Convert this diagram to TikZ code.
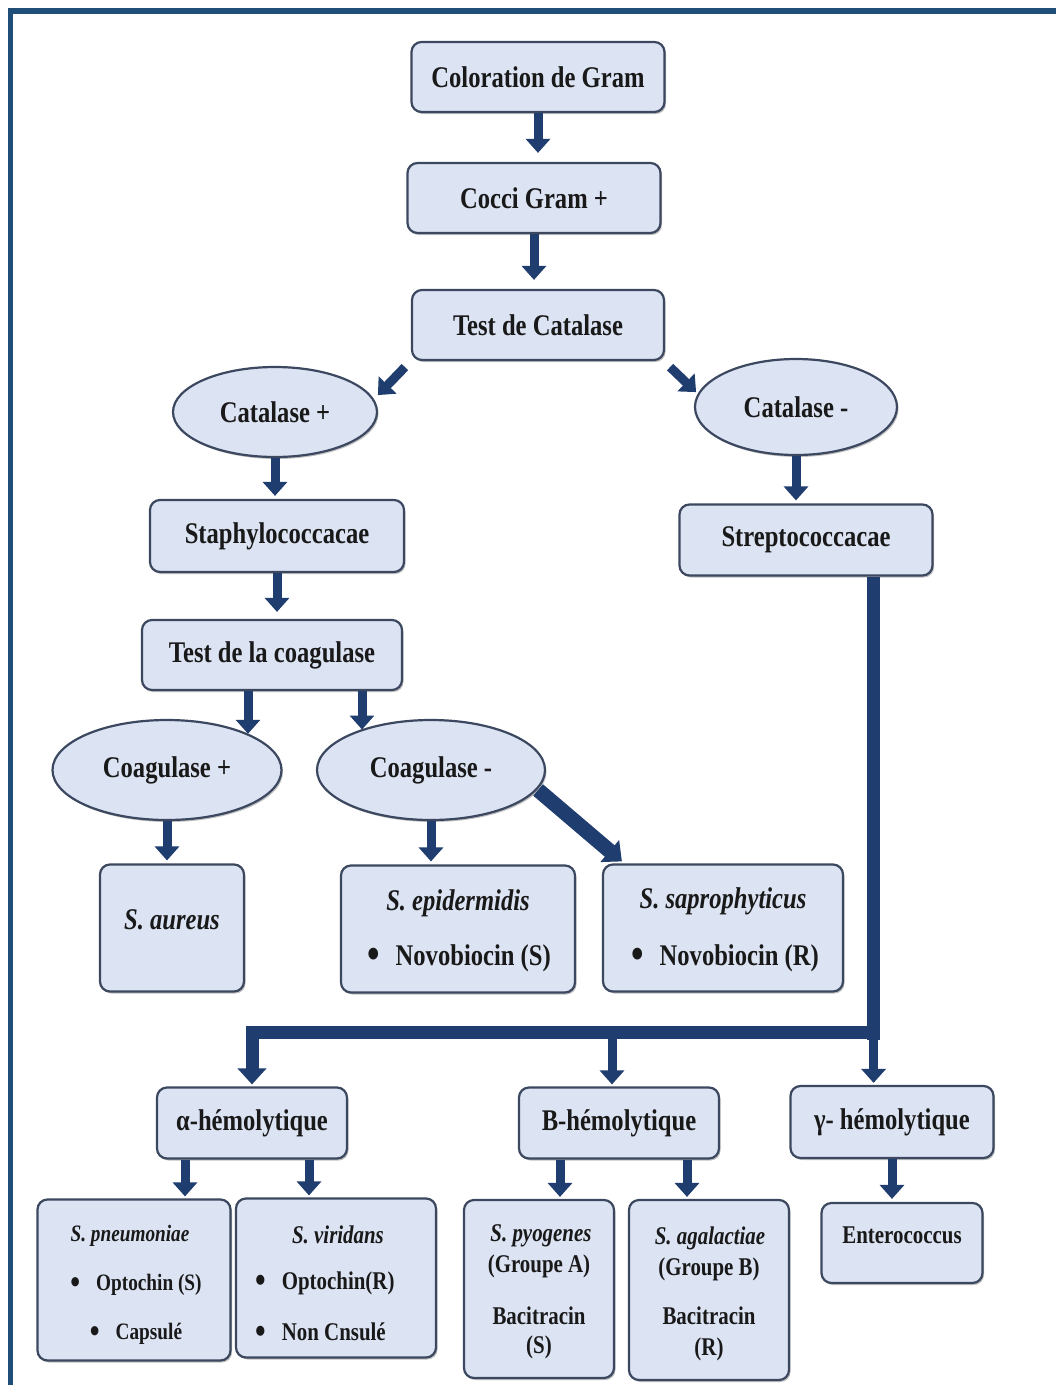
\documentclass[tikz,border=0pt]{standalone}
\usepackage{fontspec}
\setmainfont{Liberation Serif}[FakeStretch=0.82]
\usetikzlibrary{shapes.geometric,arrows.meta,calc,shadows}
\definecolor{boxfill}{HTML}{DCE3F3}
\definecolor{boxline}{HTML}{3B4860}
\definecolor{arrowc}{HTML}{1F3D6E}
\definecolor{framec}{HTML}{1F4E79}
\newcommand\fntA{\fontsize{30}{34}\selectfont\bfseries}
\newcommand\fntB{\fontsize{25.5}{29}\selectfont\bfseries}
\newcommand\fntC{\fontsize{23.5}{27}\selectfont\bfseries}
\newcommand\bigbul{\raisebox{-0.12em}{\scalebox{1.45}{\textbullet}}}
\begin{document}
\begin{tikzpicture}[x=1pt,y=-1pt,
  shad/.style={drop shadow={shadow xshift=1.5pt, shadow yshift=-2pt, opacity=0.35, fill=black!70}},
  box/.style={draw=boxline, line width=2.2pt, fill=boxfill, rounded corners=10pt, inner sep=0pt, font=\fntA, text=black!90, shad},
  ell/.style={ellipse, draw=boxline, line width=2.2pt, fill=boxfill, inner sep=0pt, font=\fntA, text=black!90, shad},
  txt/.style={inner sep=0pt, text=black!90},
  arr/.style={draw=arrowc, line width=9pt, -{Triangle[width=24pt,length=14pt]}},
  bigarr/.style={draw=arrowc, line width=15pt, -{Triangle[width=28pt,length=16pt]}},
  bus/.style={draw=arrowc, line width=13pt},
  busarr/.style={draw=arrowc, line width=13pt, line join=miter, -{Triangle[width=28pt,length=16pt]}}
]
\fill[white] (0,0) rectangle (1056,1385);
\useasboundingbox (0,0) rectangle (1056,1385);
\draw[framec, line width=5.5pt, line join=miter] (10.5,1395) -- (10.5,11) -- (1066,11);

% top chain
\node[box, minimum width=253pt, minimum height=70pt] (gram) at (538,77) {Coloration de Gram};
\node[box, minimum width=253pt, minimum height=70pt] (cocci) at (534,198) {Cocci Gram +};
\node[box, minimum width=252pt, minimum height=70pt] (tcat) at (538,325) {Test de Catalase};
\node[ell, minimum width=204pt, minimum height=90pt] (catp) at (275,412) {Catalase +};
\node[ell, minimum width=202pt, minimum height=96pt] (catm) at (796,407) {Catalase -};
\node[box, minimum width=254pt, minimum height=72pt] (staph) at (277,536) {Staphylococcacae};
\node[box, minimum width=253pt, minimum height=71pt] (strep) at (806,540) {Streptococcacae};
\node[box, minimum width=260pt, minimum height=70pt] (tcoag) at (272,655) {Test de la coagulase};
\node[ell, minimum width=229pt, minimum height=100pt] (coagp) at (167,770) {Coagulase +};
\node[ell, minimum width=228pt, minimum height=100pt] (coagm) at (431,770) {Coagulase -};

% staph species
\node[box, minimum width=144pt, minimum height=127pt] (aureus) at (172,928) {};
\node[box, minimum width=234pt, minimum height=127pt] (epid) at (458,929) {};
\node[box, minimum width=240pt, minimum height=127pt] (sapro) at (723,928) {};
\node[txt, font=\fntA\itshape] (taur) at (172,920) {S. aureus};
\node[txt, font=\fntA\itshape] (tepi1) at (458,903) {S. epidermidis};
\node[txt, font=\fntA] (tepi2) at (459,958) {\bigbul\hspace{16pt}Novobiocin (S)};
\node[txt, font=\fntA\itshape] (tsap1) at (723,901) {S. saprophyticus};
\node[txt, font=\fntA] (tsap2) at (725,958) {\bigbul\hspace{16pt}Novobiocin (R)};

% hemolysis
\node[box, minimum width=190pt, minimum height=71pt] (alpha) at (252,1123) {α-hémolytique};
\node[box, minimum width=200pt, minimum height=71pt] (beta) at (619,1123) {B-hémolytique};
\node[box, minimum width=203pt, minimum height=72pt] (gamma) at (892,1122) {γ- hémolytique};

% strep species
\node[box, minimum width=193pt, minimum height=161pt] (pneu) at (134,1280) {};
\node[box, minimum width=200pt, minimum height=159pt] (viri) at (336,1278) {};
\node[box, minimum width=150pt, minimum height=178pt] (pyo) at (539,1289) {};
\node[box, minimum width=160pt, minimum height=180pt] (aga) at (709,1290) {};
\node[box, minimum width=161pt, minimum height=80pt] (entero) at (902,1243) {};

\node[txt, font=\fntC\itshape] (tpn1) at (130,1236) {S. pneumoniae};
\node[txt, font=\fntC] (tpn2) at (136,1285) {\bigbul\hspace{16pt}Optochin (S)};
\node[txt, font=\fntC] (tpn3) at (136,1334) {\bigbul\hspace{16pt}Capsulé};
\node[txt, font=\fntB\itshape] (tvi1) at (338,1235) {S. viridans};
\node[txt, font=\fntB, anchor=west] (tvi2) at (255,1283) {\bigbul\hspace{16pt}Optochin(R)};
\node[txt, font=\fntB, anchor=west] (tvi3) at (255,1333) {\bigbul\hspace{16pt}Non Cnsulé};
\node[txt, font=\fntB\itshape] (tpy1) at (541,1236) {S. pyogenes};
\node[txt, font=\fntB] (tpy2) at (539,1266) {(Groupe A)};
\node[txt, font=\fntB] (tpy3) at (539,1316) {Bacitracin};
\node[txt, font=\fntB] (tpy4) at (539,1347) {(S)};
\node[txt, font=\fntB\itshape] (tag1) at (710,1238) {S. agalactiae};
\node[txt, font=\fntB] (tag2) at (709,1269) {(Groupe B)};
\node[txt, font=\fntB] (tag3) at (709,1316) {Bacitracin};
\node[txt, font=\fntB] (tag4) at (709,1349) {(R)};
\node[txt, font=\fntB] (tent) at (902,1235) {Enterococcus};

% arrows
\draw[arr, shorten >=9pt] (gram.south) -- (gram.south |- cocci.north);
\draw[arr, shorten >=9pt] (cocci.south) -- (cocci.south |- tcat.north);
\draw[arr] ($(tcat.south west)+(-6,6)$) -- ($(tcat.south west)+(-33,34)$);
\draw[arr] ($(tcat.south east)+(5,6)$) -- ($(tcat.south east)+(31,31)$);
\draw[arr, shorten >=3pt] (catp.south) -- (catp.south |- staph.north);
\draw[arr, shorten >=3pt] (catm.south) -- (catm.south |- strep.north);
\draw[arr, shorten >=7pt] (staph.south) -- (staph.south |- tcoag.north);
\coordinate (c1) at ($(tcoag.south)+(-24,0)$);
\draw[arr] (c1) -- (c1 |- coagp.24);
\coordinate (c2) at ($(tcoag.south)+(90,0)$);
\draw[arr] (c2) -- (c2 |- coagm.150);
\draw[arr, shorten >=3pt] (coagp.south) -- (coagp.south |- aureus.north);
\draw[arr, shorten >=3pt] (coagm.south) -- (coagm.south |- epid.north);
\draw[bigarr] ($(coagm.east)+(-8,20)$) -- ($(sapro.north west)+(20,-2)$);

\coordinate (t0) at ($(strep.south east)+(-60,0)$);
\coordinate (j) at ($(t0)+(0,456)$);
\draw[bus] (t0) -- ($(j)+(0,7)$);
\draw[busarr, shorten >=2pt] ($(j)+(6.5,0)$) -| (alpha.north);
\draw[arr, shorten >=2pt] (j) -- (j |- gamma.north);
\coordinate (b0) at ($(beta.north)+(-7,0)$);
\draw[arr, shorten >=2pt] (b0 |- j) -- (b0);

\coordinate (a1) at ($(alpha.south)+(-67,0)$);
\draw[arr, shorten >=2pt] (a1) -- (a1 |- pneu.north);
\coordinate (a2) at ($(alpha.south)+(57,0)$);
\draw[arr, shorten >=2pt] (a2) -- (a2 |- viri.north);
\coordinate (b1) at ($(beta.south)+(-59,0)$);
\draw[arr, shorten >=2pt] (b1) -- (b1 |- pyo.north);
\coordinate (b2) at ($(beta.south)+(68,0)$);
\draw[arr, shorten >=2pt] (b2) -- (b2 |- aga.north);
\draw[arr, shorten >=3pt] (gamma.south) -- (gamma.south |- entero.north);
\end{tikzpicture}
\end{document}
